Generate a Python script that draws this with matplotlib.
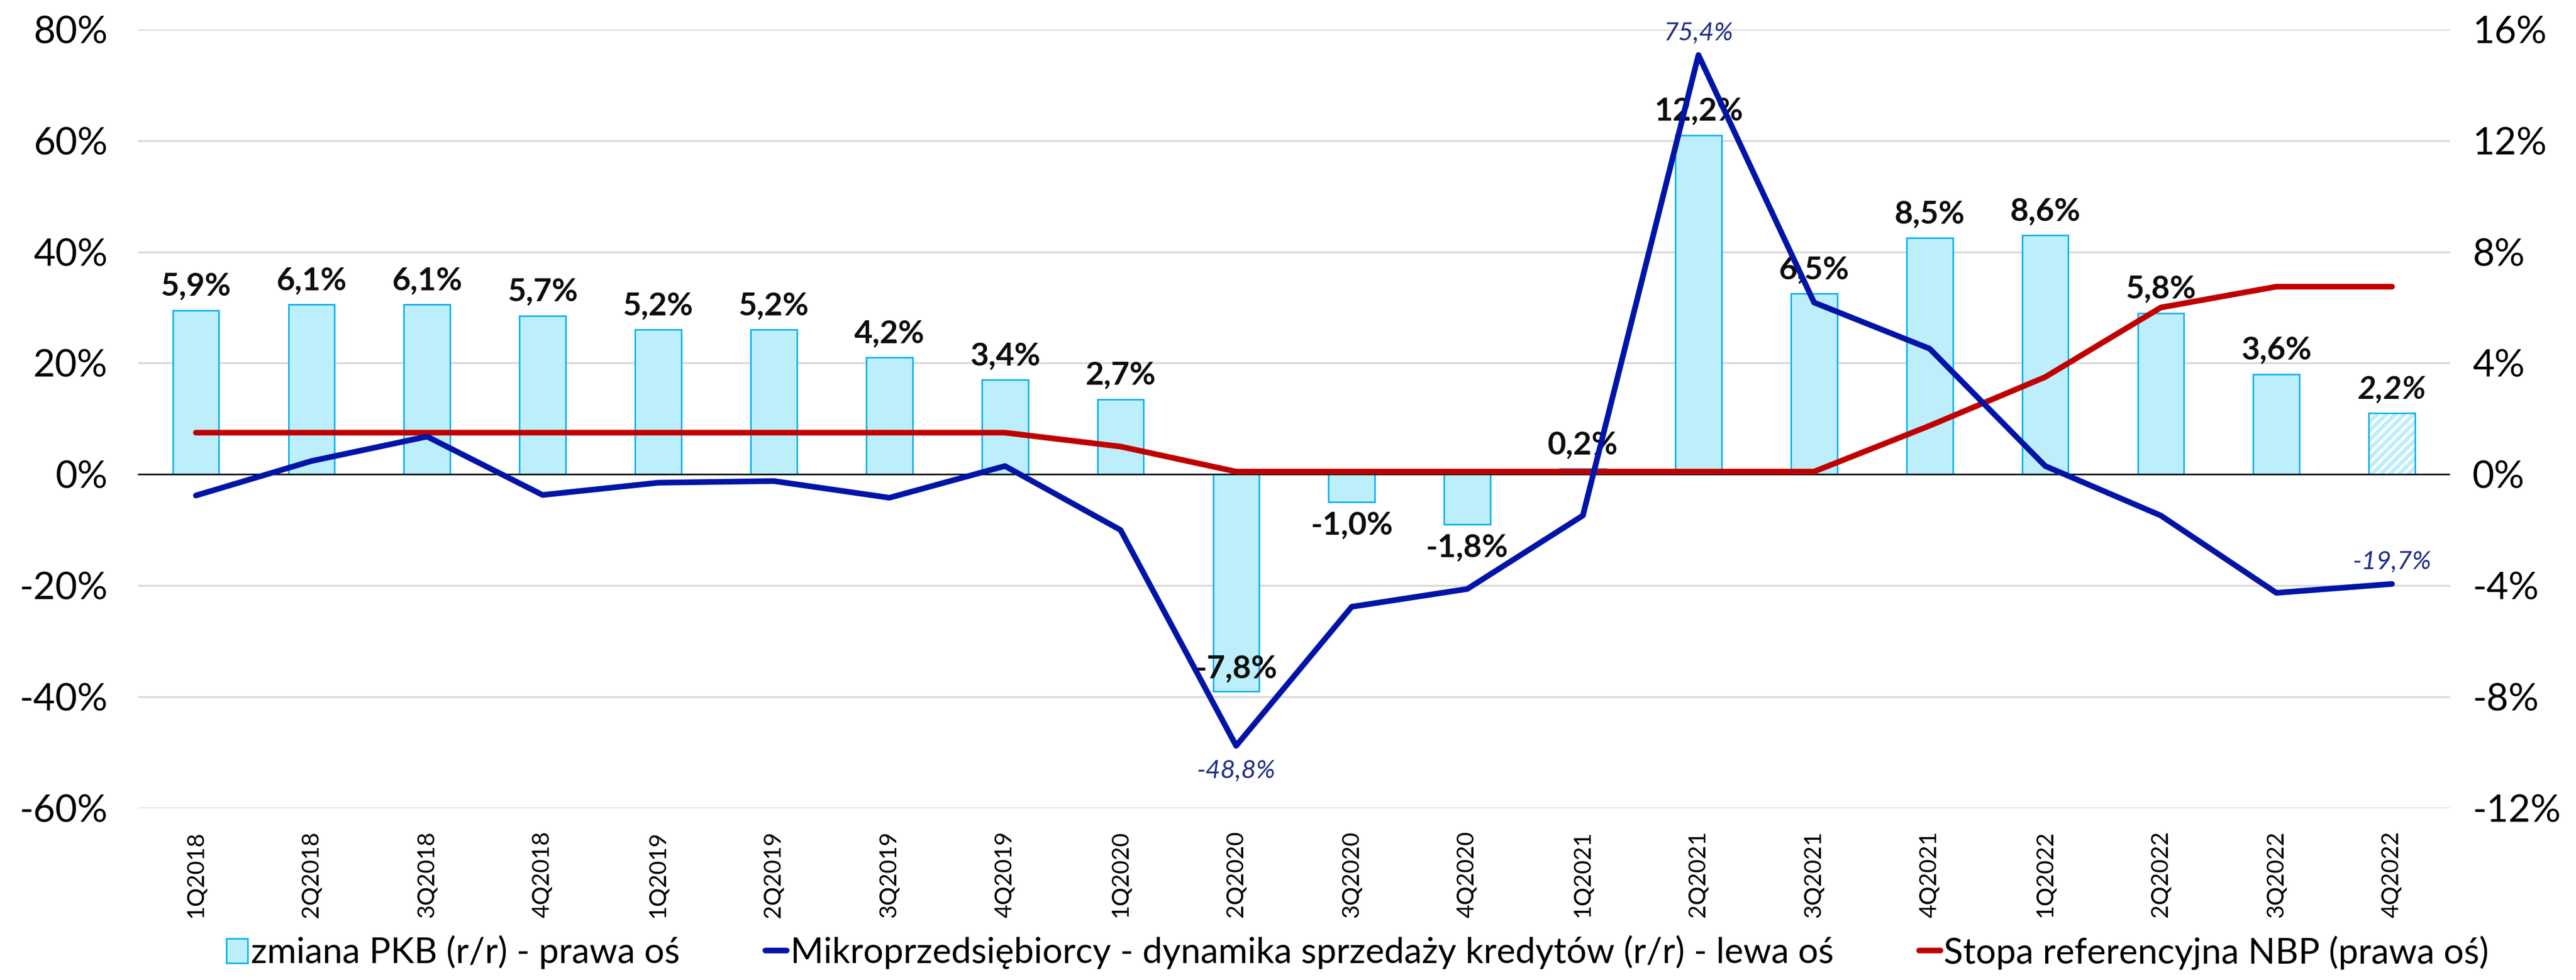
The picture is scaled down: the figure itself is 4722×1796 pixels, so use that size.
import matplotlib
matplotlib.use('Agg')
import matplotlib.pyplot as plt
from matplotlib.patches import Patch
import numpy as np

plt.rcParams['font.family'] = ['Lato', 'DejaVu Sans']
plt.rcParams['hatch.linewidth'] = 5

quarters = ['1Q2018', '2Q2018', '3Q2018', '4Q2018', '1Q2019', '2Q2019', '3Q2019', '4Q2019',
            '1Q2020', '2Q2020', '3Q2020', '4Q2020', '1Q2021', '2Q2021', '3Q2021', '4Q2021',
            '1Q2022', '2Q2022', '3Q2022', '4Q2022']
pkb = [5.9, 6.1, 6.1, 5.7, 5.2, 5.2, 4.2, 3.4, 2.7, -7.8, -1.0, -1.8, 0.2, 12.2, 6.5, 8.5,
       8.6, 5.8, 3.6, 2.2]
mikro = [-3.8, 2.4, 6.8, -3.7, -1.5, -1.2, -4.2, 1.5, -10.0, -48.8, -23.8, -20.6, -7.4, 75.4,
         30.9, 22.6, 1.5, -7.4, -21.3, -19.7]
stopa = [1.5, 1.5, 1.5, 1.5, 1.5, 1.5, 1.5, 1.5, 1.0, 0.1, 0.1, 0.1, 0.1, 0.1, 0.1, 1.75,
         3.5, 6.0, 6.75, 6.75]
pkb_labels = ['5,9%', '6,1%', '6,1%', '5,7%', '5,2%', '5,2%', '4,2%', '3,4%', '2,7%', '-7,8%',
              '-1,0%', '-1,8%', '0,2%', '12,2%', '6,5%', '8,5%', '8,6%', '5,8%', '3,6%', '2,2%']
mikro_labels = {9: '-48,8%', 13: '75,4%', 19: '-19,7%'}

bar_fill = '#BDEEFB'
bar_edge = '#00B0F0'
blue = '#0014A8'
red = '#C00000'
navy = '#1F2F86'

fig = plt.figure(figsize=(47.22, 17.96), dpi=100)
ax = fig.add_axes([0.0536, 0.1754, 0.8974, 0.7946])
ax2 = ax.twinx()
ax.set_zorder(ax2.get_zorder() + 1)
ax.patch.set_visible(False)

x = np.arange(len(quarters))
w = 0.4

# bars on right axis
ax2.bar(x[:-1], pkb[:-1], width=w, color=bar_fill, edgecolor=bar_edge, linewidth=2, zorder=2)
ax2.bar(x[-1:], pkb[-1:], width=w, color='white', edgecolor=bar_fill, hatch='//', linewidth=0, zorder=2)
ax2.bar(x[-1:], pkb[-1:], width=w, fill=False, edgecolor=bar_edge, linewidth=2, zorder=3)
ax2.plot(x, stopa, color=red, lw=7.5, solid_capstyle='round', zorder=4,
         label='Stopa referencyjna NBP (prawa oś)')
ax2.axhline(0, color='black', lw=2, zorder=3)

for i, (v, t) in enumerate(zip(pkb, pkb_labels)):
    if v >= 0:
        off, va = 12, 'bottom'
    elif i == 9:
        off, va = 10, 'bottom'  # inside end of the deep bar
    else:
        off, va = -12, 'top'
    style = 'italic' if i == len(pkb) - 1 else 'normal'
    ax2.annotate(t, (x[i], v), xytext=(0, off), textcoords='offset points', ha='center', va=va,
                 fontsize=42, fontweight='bold', fontstyle=style, color='#0D0D0D', zorder=6)

# line on left axis
ax.plot(x, mikro, color=blue, lw=7.5, solid_capstyle='round', zorder=5,
        label='Mikroprzedsiębiorcy - dynamika sprzedaży kredytów (r/r) - lewa oś')
for i, t in mikro_labels.items():
    v = mikro[i]
    if v < 0 and i != len(mikro) - 1:
        ax.annotate(t, (x[i], v), xytext=(0, -18), textcoords='offset points', ha='center', va='top',
                    fontsize=34, fontstyle='italic', color=navy)
    else:
        ax.annotate(t, (x[i], v), xytext=(0, 14), textcoords='offset points', ha='center', va='bottom',
                    fontsize=34, fontstyle='italic', color=navy)

ax.set_xlim(-0.5, len(quarters) - 0.5)
ax.set_ylim(-60, 80)
ax2.set_ylim(-12, 16)
ax.set_yticks(np.arange(-60, 81, 20))
ax.set_yticklabels([f'{v}%' for v in range(-60, 81, 20)])
ax2.set_yticks(np.arange(-12, 17, 4))
ax2.set_yticklabels([f'{v}%' for v in range(-12, 17, 4)])
ax2.yaxis.grid(True, color='#D9D9D9', lw=2.5, zorder=0)
ax2.set_axisbelow(True)

ax.set_xticks(x)
ax.set_xticklabels(quarters, rotation=90, fontsize=31)
ax.tick_params(axis='x', length=0, pad=30)
ax.tick_params(axis='y', length=0, labelsize=50, pad=40)
ax2.tick_params(axis='y', length=0, labelsize=50, pad=30)
for a in (ax, ax2):
    for s in a.spines.values():
        s.set_visible(False)

h2, l2 = ax2.get_legend_handles_labels()
h1, l1 = ax.get_legend_handles_labels()
pkb_patch = Patch(facecolor=bar_fill, edgecolor=bar_edge, linewidth=2)
fig.legend([pkb_patch] + h1 + h2, ['zmiana PKB (r/r) - prawa oś'] + l1 + l2, loc='lower center',
           bbox_to_anchor=(0.527, -0.022), ncol=3, frameon=False, fontsize=47, handlelength=0.6,
           handletextpad=0.1, columnspacing=2.4)

fig.savefig('out.png', dpi=100)
